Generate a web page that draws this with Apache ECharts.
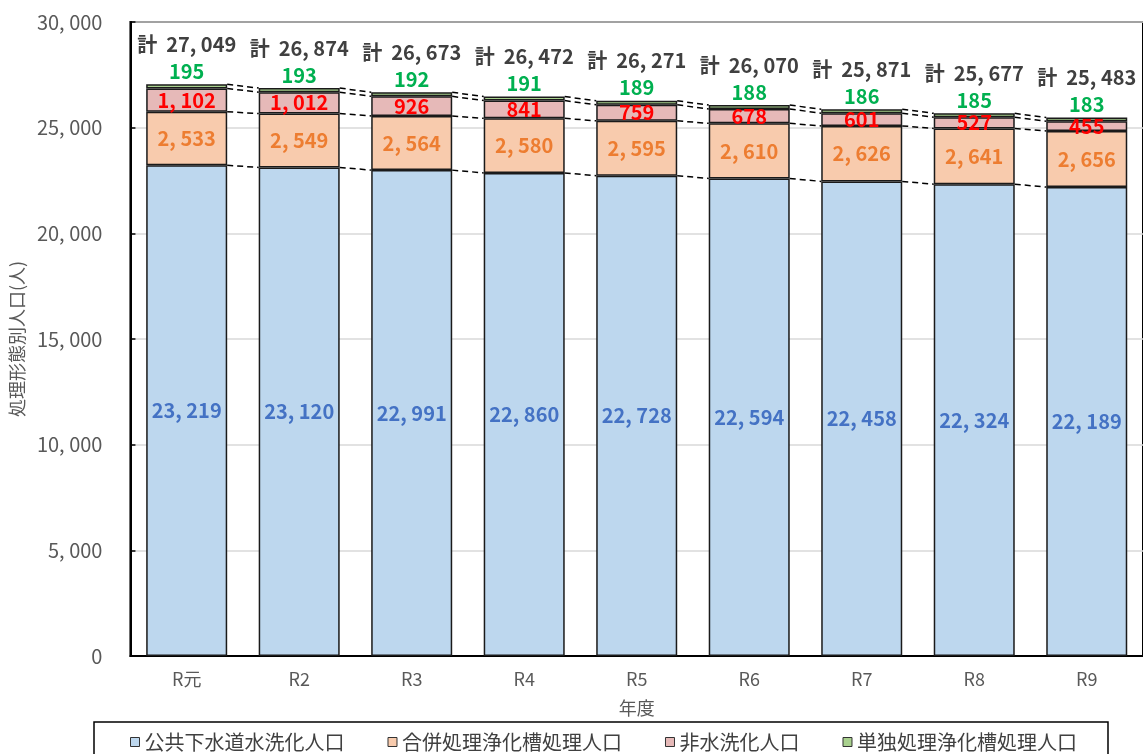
<!DOCTYPE html>
<html><head><meta charset="utf-8">
<script src="https://cdn.jsdelivr.net/npm/echarts@6/dist/echarts.min.js"></script>
<style>html,body{margin:0;padding:0;background:#fff}#c{width:1143px;height:754px}</style>
</head><body><div id="c"></div>
<script>
const categories = ['R元','R2','R3','R4','R5','R6','R7','R8','R9'];
const sewer = [23219,23120,22991,22860,22728,22594,22458,22324,22189];
const combined = [2533,2549,2564,2580,2595,2610,2626,2641,2656];
const nonFlush = [1102,1012,926,841,759,678,601,527,455];
const single = [195,193,192,191,189,188,186,185,183];
const totals = [27049,26874,26673,26472,26271,26070,25871,25677,25483];
const seriesNames = ['公共下水道水洗化人口','合併処理浄化槽処理人口','非水洗化人口','単独処理浄化槽処理人口'];

const FONT = '"Noto Sans CJK JP",sans-serif';
const fmt = v => v.toLocaleString('en-US').replace(/,/g, ', ');
const BAR_RATIO = 0.72;

const layers = [sewer, combined, nonFlush, single];
function cum(level, i){ let s=0; for(let k=0;k<=level;k++) s+=layers[k][i]; return s; }

const chart = echarts.init(document.getElementById('c'), null, {renderer:'canvas'});
const barBase = {type:'bar', stack:'a', barWidth:(BAR_RATIO*100)+'%',
  itemStyle:{borderColor:'#1a1a1a', borderWidth:1.5}};
chart.setOption({
  animation:false,
  textStyle:{fontFamily:FONT},
  grid:{left:129, top:22, width:1017, height:634, show:true, borderColor:'#000', borderWidth:2, backgroundColor:'transparent'},
  legend:{left:94, top:722, padding:[10,31,10,36], itemGap:43, itemWidth:9, itemHeight:9,
    borderColor:'#000', borderWidth:1.5, borderRadius:0,
    textStyle:{fontFamily:FONT, fontSize:20, color:'#404040'},
    itemStyle:{borderColor:'#333', borderWidth:1},
    data:seriesNames.map(n=>({name:n, icon:'rect'}))},
  xAxis:{type:'category', data:categories, name:'年度', nameLocation:'middle', nameGap:43,
    nameTextStyle:{fontFamily:FONT, fontSize:18, color:'#595959'},
    axisLine:{lineStyle:{color:'#000', width:2}},
    axisTick:{inside:true, length:5, lineStyle:{color:'#000', width:1.5}},
    axisLabel:{fontFamily:FONT, fontSize:18, color:'#595959', margin:14}},
  yAxis:{type:'value', min:0, max:30000, interval:5000, name:'処理形態別人口(人)', nameLocation:'middle', nameGap:104,
    nameTextStyle:{fontFamily:FONT, fontSize:18, color:'#595959'},
    axisLine:{show:true, lineStyle:{color:'#000', width:2}},
    axisTick:{show:true, inside:true, length:5, lineStyle:{color:'#000', width:1.5}},
    splitLine:{lineStyle:{color:'#d9d9d9', width:1.5}},
    axisLabel:{fontSize:20, color:'#595959', margin:28, formatter:v=>fmt(v)}},
  series:[
    Object.assign({}, barBase, {name:seriesNames[0], data:sewer, itemStyle:Object.assign({}, barBase.itemStyle, {color:'#BDD7EE'}),
      label:{show:true, position:'inside', fontSize:20, fontWeight:'bold', color:'#4472C4', formatter:p=>fmt(p.value)}}),
    Object.assign({}, barBase, {name:seriesNames[1], data:combined, itemStyle:Object.assign({}, barBase.itemStyle, {color:'#F8CBAD'}),
      label:{show:true, position:'inside', fontSize:20, fontWeight:'bold', color:'#ED7D31', formatter:p=>fmt(p.value)}}),
    Object.assign({}, barBase, {name:seriesNames[2], data:nonFlush, itemStyle:Object.assign({}, barBase.itemStyle, {color:'#E6B9B8'}),
      label:{show:true, position:'inside', fontSize:20, fontWeight:'bold', color:'#FF0000', formatter:p=>fmt(p.value)}}),
    Object.assign({}, barBase, {name:seriesNames[3], data:single, itemStyle:Object.assign({}, barBase.itemStyle, {color:'#A9D18E'}),
      label:{show:true, position:'top', distance:1,
        formatter:p=>'{t|計  '+fmt(totals[p.dataIndex])+'}\n{g|'+fmt(p.value)+'}',
        rich:{t:{fontSize:20, fontWeight:'bold', color:'#404040', lineHeight:30, fontFamily:FONT},
              g:{fontSize:20, fontWeight:'bold', color:'#00B050', lineHeight:24, fontFamily:FONT}}}}),
    {type:'custom', name:'connectors', silent:true, z:5,
      data:categories.map((c,i)=>i),
      encode:{x:0},
      renderItem:function(params, api){
        const i = params.dataIndex;
        if(i >= categories.length-1) return null;
        const bw = api.size([1,0])[0]*BAR_RATIO;
        const children = [];
        for(let lv=0; lv<4; lv++){
          const p1 = api.coord([i, cum(lv,i)]);
          const p2 = api.coord([i+1, cum(lv,i+1)]);
          children.push({type:'line', shape:{x1:p1[0]+bw/2, y1:p1[1], x2:p2[0]-bw/2, y2:p2[1]},
            style:{stroke:'#000', lineWidth:1.5, lineDash:[6,4]}});
        }
        return {type:'group', children};
      }}
  ]
});
</script></body></html>
